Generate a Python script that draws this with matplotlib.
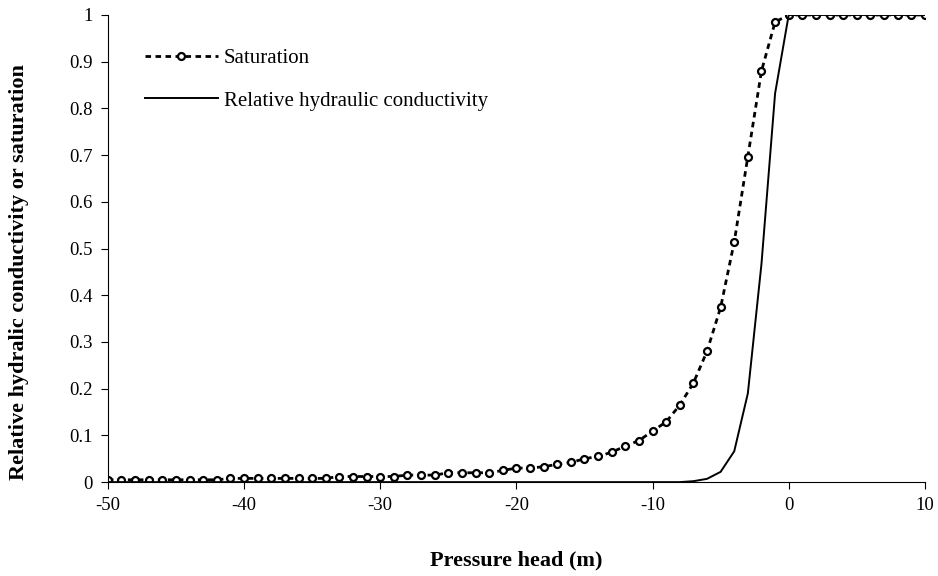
import numpy as np
from matplotlib import pyplot as plt

plt.rcParams['font.family'] = ['Liberation Serif', 'DejaVu Serif']
plt.rcParams['axes.unicode_minus'] = False

# pressure head (m)
head = list(range(-50, 11))

# saturation, one value per metre from -50 to 10
saturation = [0.005] * 9 + [0.008] * 8 + [0.012] * 5 + [0.015] * 3 + \
    [0.02, 0.02, 0.02, 0.02, 0.025, 0.03, 0.03, 0.033, 0.038, 0.042, 0.05, 0.055,
     0.064, 0.077, 0.089, 0.109, 0.129, 0.165, 0.212, 0.28, 0.374, 0.514, 0.697,
     0.88, 0.985] + [1.0] * 11

# relative hydraulic conductivity
conductivity = [0.0] * 43 + [0.002, 0.007, 0.022, 0.066, 0.19, 0.467, 0.832] + [1.0] * 11

fig = plt.figure(figsize=(9.38, 5.76), dpi=100)
ax = fig.add_axes([0.115, 0.163, 0.871, 0.811])

ax.plot(head, saturation, color='black', linestyle=(0, (2, 1.6)), linewidth=2.0,
        marker='o', markersize=5, markerfacecolor='white', markeredgecolor='black',
        markeredgewidth=1.6, label='Saturation')
ax.plot(head, conductivity, color='black', linewidth=1.4,
        label='Relative hydraulic conductivity')

ax.set_xlim(-50, 10)
ax.set_ylim(0, 1)
ax.set_xticks(np.arange(-50, 11, 10))
ax.set_yticks(np.arange(0, 1.01, 0.1))
ax.set_yticklabels(['0', '0.1', '0.2', '0.3', '0.4', '0.5', '0.6', '0.7', '0.8', '0.9', '1'])
ax.spines['top'].set_visible(False)
ax.spines['right'].set_visible(False)
ax.tick_params(direction='out', length=5, labelsize=13.5, pad=6)

ax.set_xlabel('Pressure head (m)', fontsize=16, fontweight='bold', labelpad=26)
ax.set_ylabel('Relative hydralic conductivity or saturation', fontsize=16,
              fontweight='bold')
ax.yaxis.set_label_coords(-0.097, 0.45)

ax.legend(loc='upper left', bbox_to_anchor=(0.022, 0.968), frameon=False, fontsize=15,
          handlelength=3.5, handletextpad=0.3, labelspacing=1.1)

plt.savefig('out.png', dpi=100)
